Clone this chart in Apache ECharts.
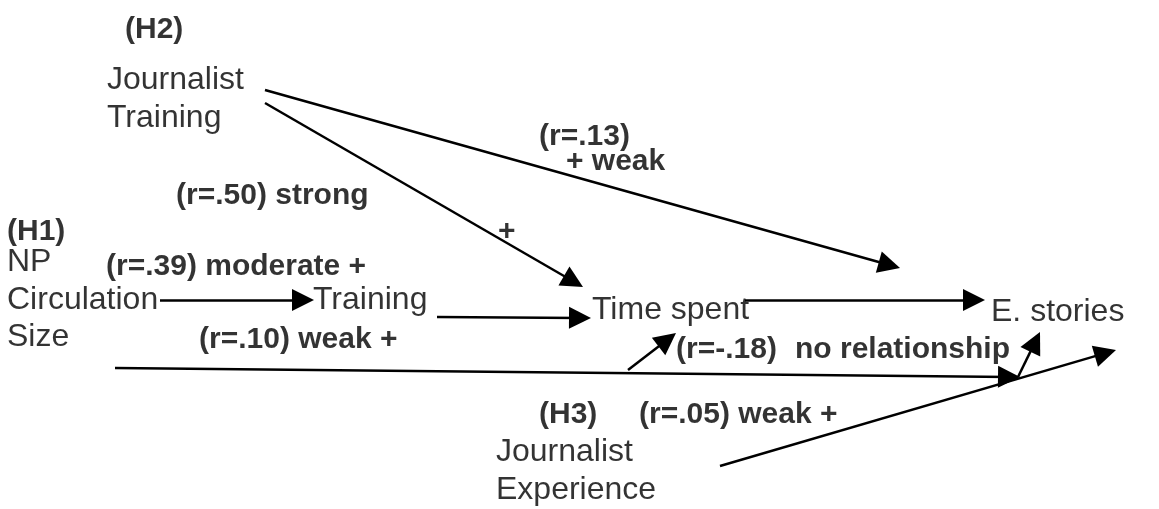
<!DOCTYPE html>
<html>
<head>
<meta charset="utf-8">
<script src="https://cdn.jsdelivr.net/npm/echarts@6/dist/echarts.min.js"></script>
<style>
html,body{margin:0;padding:0;background:#fff;}
#chart{width:1159px;height:509px;}
</style>
</head>
<body>
<div id="chart"></div>
<script>
// ---- data ----
const nodeNames = ['Journalist\nTraining', 'NP\nCirculation\nSize', 'Training', 'Time spent', 'E. stories', 'Journalist\nExperience'];
const hypotheses = ['(H2)', '(H1)', '(H3)'];
const rValues = [0.13, 0.50, 0.39, 0.10, -0.18, 0.05];
const strengthLabels = ['+ weak', 'strong', 'moderate +', 'weak +', 'no relationship', 'weak +'];
const extraSigns = ['+'];

// ---- layout (pixel positions in the drawing space) ----
const W = 1159, H = 509;
const nodePos = [[107, 99], [7, 300], [313, 300], [592, 310], [991, 312], [496, 471]];
const hypPos = [[125, 30], [7, 232], [539, 415]];
const rPos = [[539, 137], [176, 196], [106, 267], [199, 340], [676, 350], [639, 415]];
const strengthPos = [[566, 162], null, null, null, [795, 350], null];
const signPos = [[498, 232]];
// arrows: [start, arrow tip]
const arrows = [
  [[265, 90], [900, 268]],
  [[265, 103], [583, 287]],
  [[160, 300], [314, 300]],
  [[437, 317], [591, 318]],
  [[745, 300], [985, 300]],
  [[115, 368], [1020, 377]],
  [[628, 370], [676, 333]],
  [[1018, 377], [1040, 332]],
  [[720, 466], [1116, 350]]
];
const ARROW_LEN = 22, ARROW_W = 18;

function fmtR(r) {
  const s = Math.abs(r).toFixed(2).replace(/^0/, '');
  return '(r=' + (r < 0 ? '-' : '') + s + ')';
}
// the symbol is centred on the line end, so pull the end back by half its length
function toLine(a) {
  const [s, t] = a;
  const dx = t[0] - s[0], dy = t[1] - s[1];
  const len = Math.sqrt(dx * dx + dy * dy);
  const k = (ARROW_LEN / 2) / len;
  return { coords: [s, [t[0] - dx * k, t[1] - dy * k]] };
}

const regularFont = { fontFamily: 'Liberation Sans, Arial, sans-serif', fontSize: 32, lineHeight: 37.5, color: '#000' };
const boldFont = { fontFamily: 'Liberation Sans, Arial, sans-serif', fontSize: 30, fontWeight: 'bold', color: '#000' };

const regularData = nodeNames.map((n, i) => ({ name: n, value: nodePos[i] }));
const boldData = [];
hypotheses.forEach((h, i) => boldData.push({ name: h, value: hypPos[i] }));
rValues.forEach((r, i) => {
  let txt = fmtR(r);
  if (strengthPos[i] === null) txt += ' ' + strengthLabels[i];
  boldData.push({ name: txt, value: rPos[i] });
  if (strengthPos[i]) boldData.push({ name: strengthLabels[i], value: strengthPos[i] });
});
extraSigns.forEach((s, i) => boldData.push({ name: s, value: signPos[i] }));

const chart = echarts.init(document.getElementById('chart'), null, { renderer: 'canvas' });
chart.setOption({
  animation: false,
  backgroundColor: '#fff',
  grid: { left: 0, right: 0, top: 0, bottom: 0 },
  xAxis: { type: 'value', min: 0, max: W, show: false },
  yAxis: { type: 'value', min: 0, max: H, inverse: true, show: false },
  series: [
    {
      type: 'lines',
      coordinateSystem: 'cartesian2d',
      symbol: ['none', 'triangle'],
      symbolSize: [ARROW_W, ARROW_LEN],
      lineStyle: { color: '#000', width: 2.5, opacity: 1 },
      itemStyle: { color: '#000' },
      data: arrows.map(toLine),
      z: 2
    },
    {
      type: 'scatter',
      symbolSize: 0,
      data: regularData,
      label: Object.assign({ show: true, position: 'right', distance: 0, formatter: '{b}', align: 'left', verticalAlign: 'middle' }, regularFont),
      z: 3
    },
    {
      type: 'scatter',
      symbolSize: 0,
      data: boldData,
      label: Object.assign({ show: true, position: 'right', distance: 0, formatter: '{b}', align: 'left', verticalAlign: 'middle' }, boldFont),
      z: 3
    }
  ]
});
</script>
</body>
</html>
